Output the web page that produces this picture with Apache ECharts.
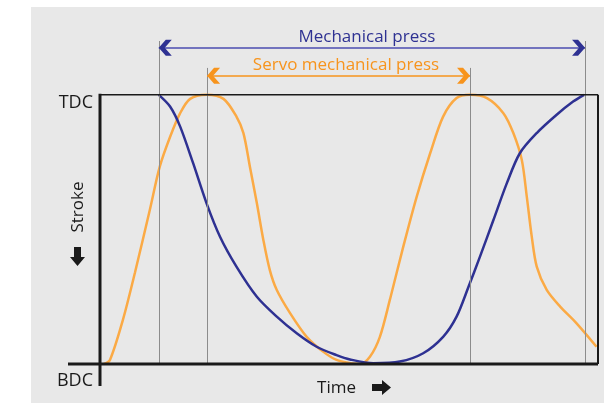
<!DOCTYPE html>
<html>
<head>
<meta charset="utf-8">
<script src="https://cdn.jsdelivr.net/npm/echarts@6/dist/echarts.min.js"></script>
<style>
  html, body { margin: 0; padding: 0; background: #fff; }
  #chart { width: 604px; height: 403px; }
</style>
</head>
<body>
<div id="chart"></div>
<script>
// time runs 0..100 across the box, stroke 0 = BDC, 100 = TDC
var servoTime   = [0.8, 2.0, 4.6, 7.0, 10.0, 12.0, 14.1, 16.1, 18.1, 21.4, 24.8, 27.4, 28.8, 30.1, 31.5, 32.8, 34.1, 35.5, 38.2, 41.5, 44.8, 47.5, 50.2, 52.2, 54.2, 56.2, 58.2, 60.9, 63.6, 66.3, 68.9, 71.6, 74.3, 77.7, 81.0, 83.0, 84.7, 85.7, 86.7, 87.7, 89.7, 92.4, 95.7, 99.7];
var servoStroke = [0, 1.5, 16.4, 33.8, 57.2, 73.3, 84.5, 93.2, 98.5, 100, 98.5, 91.9, 85.8, 73.3, 59.7, 46.1, 34.9, 27.5, 18.8, 10.1, 4.6, 1.5, 0.3, 0, 2.7, 10.1, 23.8, 43.6, 62.2, 78.3, 91.9, 98.8, 100, 98.8, 93.2, 85.8, 75.8, 62.2, 47.3, 36.2, 27.5, 21.3, 15.1, 6.4];
var mechTime    = [11.8, 14.1, 16.1, 18.7, 21.4, 24.1, 27.4, 31.5, 35.5, 39.5, 43.5, 47.5, 50.2, 54.9, 60.2, 64.9, 68.9, 71.6, 74.0, 76.3, 79.0, 81.7, 84.3, 87.7, 91.7, 95.0, 97.2];
var mechStroke  = [100, 95.6, 88.2, 74.6, 59.7, 47.3, 36.2, 25.0, 17.6, 11.4, 6.4, 3.3, 1.7, 0.3, 0.9, 4.0, 10.1, 17.6, 28.7, 39.9, 53.5, 67.2, 78.3, 85.8, 92.6, 97.5, 100];
var mechSpan    = [11.8, 97.4];
var servoSpan   = [21.5, 74.3];
var strokeLabels = ['BDC', 'TDC'];
var spanLabels   = ['Mechanical press', 'Servo mechanical press'];
var axisNames    = ['Time', 'Stroke'];

var NAVY = '#2e3192', ORANGE = '#f7941d', ORANGE_LINE = '#fbaa45';
var FONT = '"Open Sans", sans-serif';

function zip(a, b) {
  return a.map(function (v, i) { return [v, b[i]]; });
}

function guide(t, top) {
  return [{ coord: [t, 0], lineStyle: { color: '#8c8c8c', width: 1, type: 'solid' } }, { coord: [t, top] }];
}

var chart = echarts.init(document.getElementById('chart'));

var option = {
  backgroundColor: '#fff',
  animation: false,
  grid: { left: 100, right: 6, top: 41, bottom: 39 },
  xAxis: { type: 'value', min: 0, max: 100, show: false },
  yAxis: { type: 'value', min: 0, max: 120, show: false },
  series: [
    {
      type: 'line',
      data: zip(servoTime, servoStroke),
      smooth: 0.3,
      showSymbol: false,
      lineStyle: { color: ORANGE_LINE, width: 2.5 },
      z: 3,
      markLine: {
        silent: true,
        symbol: 'none',
        label: { show: false },
        data: [
          guide(servoSpan[0], 110),
          guide(servoSpan[1], 110),
          [{ coord: [servoSpan[0], 107.1], lineStyle: { color: ORANGE, width: 1.5, type: 'solid' } }, { coord: [servoSpan[1], 107.1] }]
        ]
      }
    },
    {
      type: 'line',
      data: zip(mechTime, mechStroke),
      smooth: 0.3,
      showSymbol: false,
      lineStyle: { color: NAVY, width: 2.5 },
      z: 4,
      markLine: {
        silent: true,
        symbol: 'none',
        label: { show: false },
        data: [
          guide(mechSpan[0], 120),
          guide(mechSpan[1], 120),
          [{ coord: [mechSpan[0], 117.5], lineStyle: { color: '#4b4db0', width: 1.5, type: 'solid' } }, { coord: [mechSpan[1], 117.5] }]
        ]
      }
    }
  ]
};
chart.setOption(option);

// frame, arrows and labels placed through the chart's own scales
function px(t, s) { return chart.convertToPixel({ gridIndex: 0 }, [t, s]); }

function chevron(tip, dir, color) {
  var w = 13, h = 8, th = 6;
  var x = tip[0], y = tip[1];
  return {
    type: 'polygon', z: 10,
    shape: { points: [[x, y], [x + dir * (w - th), y - h], [x + dir * w, y - h], [x + dir * th, y], [x + dir * w, y + h], [x + dir * (w - th), y + h]] },
    style: { fill: color }
  };
}

var tl = px(0, 100), br = px(100, 0);
var mL = px(mechSpan[0], 117.5), mR = px(mechSpan[1], 117.5);
var sL = px(servoSpan[0], 107.1), sR = px(servoSpan[1], 107.1);
var mechLbl = px(53.6, 121.6), servoLbl = px(49.4, 111.2);
var timeLbl = px(47.5, -9);

var textStyle = function (txt, size, color, align) {
  return { text: txt, font: size + 'px ' + FONT, fill: color, align: align || 'center', verticalAlign: 'middle' };
};

chart.setOption({
  graphic: [
    { type: 'rect', z: -10, shape: { x: 31, y: 7, width: 573, height: 396 }, style: { fill: '#e8e8e8' } },
    { type: 'line', z: 5, shape: { x1: tl[0], y1: tl[1], x2: br[0], y2: tl[1] }, style: { stroke: '#1a1a1a', lineWidth: 1.5 } },
    { type: 'line', z: 5, shape: { x1: br[0], y1: tl[1], x2: br[0], y2: br[1] }, style: { stroke: '#1a1a1a', lineWidth: 2 } },
    { type: 'line', z: 5, shape: { x1: tl[0], y1: tl[1] - 1, x2: tl[0], y2: br[1] + 22 }, style: { stroke: '#1a1a1a', lineWidth: 3 } },
    { type: 'line', z: 5, shape: { x1: tl[0] - 32, y1: br[1], x2: br[0], y2: br[1] }, style: { stroke: '#1a1a1a', lineWidth: 3 } },
    chevron(mL, 1, NAVY), chevron(mR, -1, NAVY),
    chevron(sL, 1, ORANGE), chevron(sR, -1, ORANGE),
    { type: 'text', z: 10, x: mechLbl[0], y: mechLbl[1], style: textStyle(spanLabels[0], 17, NAVY) },
    { type: 'text', z: 10, x: servoLbl[0], y: servoLbl[1], style: textStyle(spanLabels[1], 17, ORANGE) },
    { type: 'text', z: 10, x: tl[0] - 7, y: tl[1] + 8, style: textStyle(strokeLabels[1], 18, '#1a1a1a', 'right') },
    { type: 'text', z: 10, x: tl[0] - 7, y: br[1] + 17, style: textStyle(strokeLabels[0], 18, '#1a1a1a', 'right') },
    { type: 'text', z: 10, x: timeLbl[0], y: timeLbl[1], style: textStyle(axisNames[0], 17, '#1a1a1a') },
    { type: 'text', z: 10, x: 78, y: 207, rotation: Math.PI / 2, style: textStyle(axisNames[1], 17, '#1a1a1a') },
    // down arrow under "Stroke"
    { type: 'polygon', z: 10, shape: { points: [[74, 247], [81, 247], [81, 257], [85, 257], [77.5, 266], [70, 257], [74, 257]] }, style: { fill: '#1a1a1a' } },
    // right arrow after "Time"
    { type: 'polygon', z: 10, shape: { points: [[372, 384], [382, 384], [382, 380], [391, 387.5], [382, 395], [382, 391], [372, 391]] }, style: { fill: '#1a1a1a' } }
  ]
});
</script>
</body>
</html>
